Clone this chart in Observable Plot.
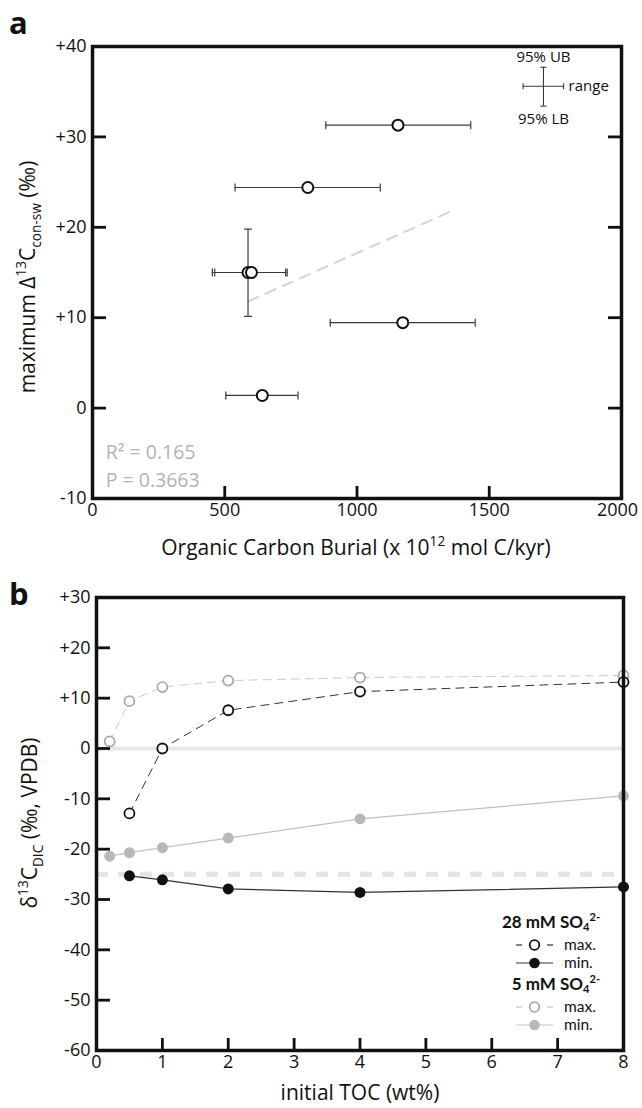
<!DOCTYPE html>
<html>
<head>
<meta charset="utf-8">
<script src="https://cdn.jsdelivr.net/npm/d3@7"></script>
<script src="https://cdn.jsdelivr.net/npm/@observablehq/plot@0.6"></script>
<style>
  html, body { margin: 0; padding: 0; background: #fff; }
  #wrap { position: relative; width: 642px; height: 1108px; overflow: hidden; }
  #wrap svg { position: absolute; left: 0; overflow: visible; }
</style>
</head>
<body>
<div id="wrap"></div>
<script>
// ---------- Panel a data ----------
const burialX  = [1155, 814, 588, 601, 1173, 642];
const maxD13C  = [31.3, 24.4, 15.0, 15.0, 9.45, 1.4];
const burialLo = [882, 539, 453, 462, 899, 504];
const burialHi = [1430, 1088, 730, 736, 1447, 777];
const vErrX  = [588];
const vErrLo = [10.15];
const vErrHi = [19.8];
const fitX = [588, 1358];
const fitY = [11.8, 21.8];
const statsLabels = ["R\u00B2 = 0.165", "P = 0.3663"];
const statsX = [50, 50];
const statsY = [-4.9, -8.0];
const keyX = [1705], keyXLo = [1628], keyXHi = [1781];
const keyY = [35.6], keyYLo = [33.4], keyYHi = [37.7];
const keyMidLabels = ["95% UB", "95% LB"];
const keyMidX = [1705, 1705];
const keyMidY = [38.8, 32.0];
const keySideLabel = ["range"];
const keySideX = [1800];
const keySideY = [35.6];
const xDomainA = [0, 2000];
const yDomainA = [-10, 40];
const xTicksA = [0, 500, 1000, 1500];
const xTickLastA = [2000];
const xInnerTicksA = [500, 1000, 1500];
const yTicksA = [40, 30, 20, 10, 0, -10];
const yInnerTicksA = [30, 20, 10, 0];

// ---------- Panel b data ----------
const toc5  = [0.2, 0.5, 1, 2, 4, 8];
const max5  = [1.4, 9.4, 12.2, 13.5, 14.1, 14.5];
const min5  = [-21.4, -20.7, -19.7, -17.8, -14.0, -9.4];
const toc28 = [0.5, 1, 2, 4, 8];
const max28 = [-12.9, 0, 7.6, 11.3, 13.2];
const min28 = [-25.3, -26.1, -27.9, -28.6, -27.5];
const zeroLine = [0];
const dashedLine = [-25];
const xDomainB = [0, 8];
const yDomainB = [-60, 30];
const xTicksB = [0, 1, 2, 3, 4, 5, 6, 7, 8];
const xInnerTicksB = [1, 2, 3, 4, 5, 6, 7];
const yTicksB = [30, 20, 10, 0, -10, -20, -30, -40, -50, -60];
const yInnerTicksB = [20, 10, 0, -10, -20, -30, -40, -50];

const FONT = "'Open Sans', Lato, sans-serif";
const LFONT = "Lato, 'Open Sans', sans-serif";
const fmt = d => d > 0 ? `+${d}` : `${d}`;
const blank = () => "";
const capV = {draw(ctx, size) { const h = Math.sqrt(size / Math.PI); ctx.moveTo(0, -h); ctx.lineTo(0, h); }};
const capH = {draw(ctx, size) { const h = Math.sqrt(size / Math.PI); ctx.moveTo(-h, 0); ctx.lineTo(h, 0); }};
const TICK = 13; // inward tick length in px

// geometry of the two panels
const A = {w: 642, h: 555, mt: 46, mb: 57, ml: 92, mr: 21};
const B = {w: 642, h: 553, mt: 42, mb: 58, ml: 96, mr: 19};

// Inward ticks: an ordinary (outward) Plot axis on the opposite side of the
// frame, shifted across the frame so its ticks point into the plot.
function inwardTicks(values, side, G) {
  const fw = G.w - G.ml - G.mr, fh = G.h - G.mt - G.mb;
  const common = {tickSize: TICK, tickFormat: blank, strokeWidth: 2.8, stroke: "#111", label: null};
  if (side === "left")  return Plot.axisY(values, {anchor: "right", dx: -fw, ...common});
  if (side === "right") return Plot.axisY(values, {anchor: "left", dx: fw, ...common});
  return Plot.axisX(values, {anchor: "top", dy: fh, ...common});
}

const idxA = d3.range(burialX.length);
const idxV = d3.range(vErrX.length);
const idxF = d3.range(fitX.length);
const idxS = d3.range(statsLabels.length);

const EB = "#3a3a3a";

const plotA = Plot.plot({
  width: A.w, height: A.h,
  marginTop: A.mt, marginBottom: A.mb, marginLeft: A.ml, marginRight: A.mr,
  style: {fontFamily: FONT, fontSize: "18px", color: "#111", background: "transparent", overflow: "visible"},
  x: {domain: xDomainA, label: null},
  y: {domain: yDomainA, label: null},
  marks: [
    Plot.line(idxF, {x: i => fitX[i], y: i => fitY[i], stroke: "#d4d4d4", strokeWidth: 2, strokeDasharray: "11,8"}),
    Plot.ruleY(idxA, {y: i => maxD13C[i], x1: i => burialLo[i], x2: i => burialHi[i], stroke: EB, strokeWidth: 1.2}),
    Plot.dot(idxA, {x: i => burialLo[i], y: i => maxD13C[i], symbol: capV, r: 4, fill: "none", stroke: EB, strokeWidth: 1.2}),
    Plot.dot(idxA, {x: i => burialHi[i], y: i => maxD13C[i], symbol: capV, r: 4, fill: "none", stroke: EB, strokeWidth: 1.2}),
    Plot.ruleX(idxV, {x: i => vErrX[i], y1: i => vErrLo[i], y2: i => vErrHi[i], stroke: EB, strokeWidth: 1.2}),
    Plot.dot(idxV, {x: i => vErrX[i], y: i => vErrLo[i], symbol: capH, r: 4, fill: "none", stroke: EB, strokeWidth: 1.2}),
    Plot.dot(idxV, {x: i => vErrX[i], y: i => vErrHi[i], symbol: capH, r: 4, fill: "none", stroke: EB, strokeWidth: 1.2}),
    Plot.dot(idxA, {x: i => burialX[i], y: i => maxD13C[i], r: 5.5, fill: "white", stroke: "#111", strokeWidth: 2}),
    // key (error-bar explanation)
    Plot.ruleX(keyX, {x: d => d, y1: () => keyYLo[0], y2: () => keyYHi[0], stroke: EB, strokeWidth: 1.1}),
    Plot.ruleY(keyY, {y: d => d, x1: () => keyXLo[0], x2: () => keyXHi[0], stroke: EB, strokeWidth: 1.1}),
    Plot.dot(keyX, {x: d => d, y: () => keyYLo[0], symbol: capH, r: 3, fill: "none", stroke: EB, strokeWidth: 1.1}),
    Plot.dot(keyX, {x: d => d, y: () => keyYHi[0], symbol: capH, r: 3, fill: "none", stroke: EB, strokeWidth: 1.1}),
    Plot.dot(keyY, {x: () => keyXLo[0], y: d => d, symbol: capV, r: 3, fill: "none", stroke: EB, strokeWidth: 1.1}),
    Plot.dot(keyY, {x: () => keyXHi[0], y: d => d, symbol: capV, r: 3, fill: "none", stroke: EB, strokeWidth: 1.1}),
    Plot.text(d3.range(keyMidLabels.length), {x: i => keyMidX[i], y: i => keyMidY[i], text: i => keyMidLabels[i],
      textAnchor: "middle", fontSize: 15, fill: "#111"}),
    Plot.text(d3.range(keySideLabel.length), {x: i => keySideX[i], y: i => keySideY[i], text: i => keySideLabel[i],
      textAnchor: "start", fontSize: 15, fill: "#111"}),
    Plot.text(idxS, {x: i => statsX[i], y: i => statsY[i], text: i => statsLabels[i], textAnchor: "start", fontSize: 19.5, fill: "#b3b3b3"}),
    // axes
    Plot.axisY(yTicksA, {anchor: "left", tickSize: 0, tickPadding: 6, tickFormat: fmt, fontSize: 18, label: null}),
    Plot.axisX(xTicksA, {anchor: "bottom", tickSize: 0, tickPadding: 5, tickFormat: d => String(d), fontSize: 18, label: null}),
    Plot.axisX(xTickLastA, {anchor: "bottom", tickSize: 0, tickPadding: 5, tickFormat: d => String(d), fontSize: 18, dx: -4, label: null}),
    inwardTicks(yInnerTicksA, "left", A),
    inwardTicks(yInnerTicksA, "right", A),
    inwardTicks(xInnerTicksA, "bottom", A),
    Plot.frame({stroke: "#111", strokeWidth: 3.5})
  ]
});

const idx5 = d3.range(toc5.length);
const idx28 = d3.range(toc28.length);

const plotB = Plot.plot({
  width: B.w, height: B.h,
  marginTop: B.mt, marginBottom: B.mb, marginLeft: B.ml, marginRight: B.mr,
  style: {fontFamily: FONT, fontSize: "18px", color: "#111", background: "transparent", overflow: "visible"},
  x: {domain: xDomainB, label: null},
  y: {domain: yDomainB, label: null},
  marks: [
    Plot.ruleY(zeroLine, {stroke: "#e8e8e8", strokeWidth: 4}),
    Plot.ruleY(dashedLine, {stroke: "#e4e4e4", strokeWidth: 5, strokeDasharray: "12,10"}),
    Plot.line(idx5, {x: i => toc5[i], y: i => max5[i], stroke: "#cacaca", strokeWidth: 1, strokeDasharray: "8,6"}),
    Plot.line(idx5, {x: i => toc5[i], y: i => min5[i], stroke: "#c0c0c0", strokeWidth: 1.2}),
    Plot.line(idx28, {x: i => toc28[i], y: i => max28[i], stroke: "#333", strokeWidth: 1, strokeDasharray: "8,6"}),
    Plot.line(idx28, {x: i => toc28[i], y: i => min28[i], stroke: "#333", strokeWidth: 1.2}),
    Plot.dot(idx5, {x: i => toc5[i], y: i => max5[i], r: 5, fill: "white", stroke: "#a8a8a8", strokeWidth: 1.8}),
    Plot.dot(idx5, {x: i => toc5[i], y: i => min5[i], r: 5.5, fill: "#b8b8b8"}),
    Plot.dot(idx28, {x: i => toc28[i], y: i => max28[i], r: 5, fill: "white", stroke: "#111", strokeWidth: 1.8}),
    Plot.dot(idx28, {x: i => toc28[i], y: i => min28[i], r: 5.5, fill: "#111"}),
    Plot.axisY(yTicksB, {anchor: "left", tickSize: 0, tickPadding: 6, tickFormat: fmt, fontSize: 18, label: null}),
    Plot.axisX(xTicksB, {anchor: "bottom", tickSize: 0, tickPadding: 5, tickFormat: d => String(d), fontSize: 18, label: null}),
    inwardTicks(yInnerTicksB, "left", B),
    inwardTicks(xInnerTicksB, "bottom", B),
    Plot.frame({stroke: "#111", strokeWidth: 3.5})
  ]
});

const wrap = document.getElementById("wrap");
plotA.style.top = "0px";
plotB.style.top = A.h + "px";
wrap.appendChild(plotA);
wrap.appendChild(plotB);

function richText(svg, {x, y, rotate = 0, size, anchor = "middle", weight = "normal", fill = "#111", parts, sub = 0.28, sup = 0.42, font = FONT}) {
  const t = d3.select(svg).append("text")
    .attr("transform", `translate(${x},${y}) rotate(${rotate})`)
    .attr("text-anchor", anchor)
    .attr("font-size", size)
    .attr("font-weight", weight)
    .attr("font-family", font)
    .attr("fill", fill);
  let cur = 0;
  for (const [s, kind] of parts) {
    const target = kind === "sup" ? -sup * size : kind === "sub" ? sub * size : 0;
    t.append("tspan")
      .attr("dy", target - cur)
      .attr("font-size", kind ? size * 0.65 : size)
      .text(s);
    cur = target;
  }
  return t;
}

// panel letters
richText(plotA, {x: 9, y: 34, size: 31, anchor: "start", weight: "bold", parts: [["a"]]});
richText(plotB, {x: 9, y: 50, size: 31, anchor: "start", weight: "bold", parts: [["b"]]});

// axis titles
richText(plotA, {x: 35, y: 277, rotate: -90, size: 21,
  parts: [["maximum \u0394"], ["13", "sup"], ["C"], ["con-sw", "sub"], [" (\u2030)"]]});
richText(plotA, {x: 356, y: 555, size: 21,
  parts: [["Organic Carbon Burial (x 10"], ["12", "sup"], [" mol C/kyr)"]]});
richText(plotB, {x: 37, y: 268, rotate: -90, size: 21,
  parts: [["\u03B4"], ["13", "sup"], ["C"], ["DIC", "sub"], [" (\u2030, VPDB)"]]});
richText(plotB, {x: 360, y: 545, size: 21, parts: [["initial TOC (wt%)"]]});

// panel b legend
const svgB = d3.select(plotB);
const lg = svgB.append("g").attr("font-family", LFONT).attr("text-anchor", "start");
function legendHeader(y, label) {
  richText(plotB, {x: 600, y, size: 17, anchor: "end", weight: "bold", sub: 0.16, sup: 0.4, font: LFONT,
    parts: [[label], ["4", "sub"], ["2-", "sup"]]});
}
function legendRow(y, color, lineColor, open, text) {
  if (open) {
    lg.append("line").attr("x1", 516).attr("x2", 522).attr("y1", y).attr("y2", y).attr("stroke", lineColor).attr("stroke-width", 1.2);
    lg.append("line").attr("x1", 547).attr("x2", 553).attr("y1", y).attr("y2", y).attr("stroke", lineColor).attr("stroke-width", 1.2);
    lg.append("circle").attr("cx", 534.5).attr("cy", y).attr("r", 4.8).attr("fill", "white").attr("stroke", color).attr("stroke-width", 1.8);
  } else {
    lg.append("line").attr("x1", 516).attr("x2", 553).attr("y1", y).attr("y2", y).attr("stroke", lineColor).attr("stroke-width", 1.2);
    lg.append("circle").attr("cx", 534.5).attr("cy", y).attr("r", 5.3).attr("fill", color);
  }
  lg.append("text").attr("x", 564).attr("y", y + 5).attr("font-size", 15.5).attr("fill", "#111")
    .attr("text-anchor", "start").text(text);
}
legendHeader(373, "28 mM SO");
legendRow(390, "#111", "#333", true, "max.");
legendRow(408, "#111", "#333", false, "min.");
legendHeader(435, "5 mM SO");
legendRow(452, "#a8a8a8", "#c4c4c4", true, "max.");
legendRow(470, "#b8b8b8", "#c4c4c4", false, "min.");
</script>
</body>
</html>
